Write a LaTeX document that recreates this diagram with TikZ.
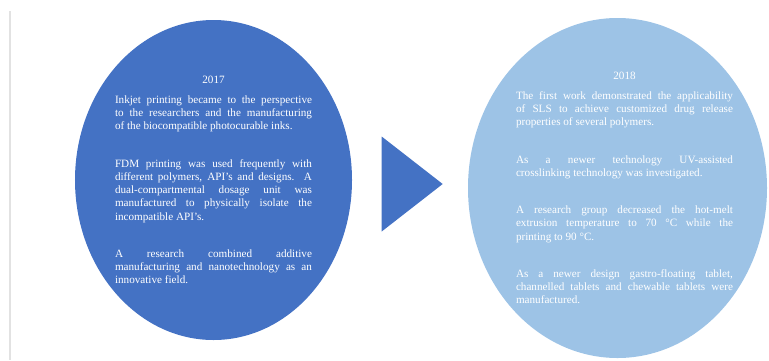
\documentclass[tikz,border=0pt]{standalone}
\usepackage{fontspec}
\setmainfont{Liberation Serif}
\usetikzlibrary{positioning,shapes.geometric}
\definecolor{darkblue}{HTML}{4472C4}
\definecolor{lightblue}{HTML}{9DC3E6}
\definecolor{rulegray}{HTML}{E2E2E2}
\tikzset{
  bubble/.style = {
    ellipse, inner sep=0pt, draw=none
  },
  yearnote/.style = {
    text=white, align=justify, inner sep=0pt,
    font=\fontsize{11.2}{13.3}\selectfont,
    execute at begin node=\setlength{\parindent}{0pt}
  },
  pointer/.style = {
    isosceles triangle, isosceles triangle stretches, shape border rotate=0,
    fill=darkblue, inner sep=0pt, minimum width=95bp, minimum height=61bp
  },
}
\newcommand{\paragap}{\par\vskip 24bp}

\begin{document}
\begin{tikzpicture}[x=1bp, y=-1bp]
  \useasboundingbox (0,0) rectangle (769,360);
  \draw[rulegray, line width=2bp] (10,11) -- (10,360);
  \node (y2017) [bubble, fill=darkblue, minimum width=277bp, minimum height=320bp] at (213.5,180) {};
  \node (arrow) [pointer, right=91bp of y2017.east, anchor=apex, yshift=-4bp] {};
  \node (y2018) [bubble, fill=lightblue, minimum width=299bp, minimum height=340bp] at (617.5,188) {};
  \node (t2017) [yearnote, text width=197bp] at (y2017.center) {{\centering 2017\par}\vskip 6.7bp
    Inkjet printing became to the perspective\linebreak to the researchers and the manufacturing\linebreak of the biocompatible photocurable inks.\paragap
    FDM printing was used frequently with\linebreak different polymers, API's and designs. A\linebreak dual-compartmental dosage unit was\linebreak manufactured to physically isolate the\linebreak incompatible API's.\paragap
    A research combined additive\linebreak manufacturing and nanotechnology as an\linebreak innovative field.};
  \node (t2018) [yearnote, text width=217bp, xshift=7bp] at (y2018.center) {{\centering 2018\par}\vskip 6.7bp
    The first work demonstrated the applicability\linebreak of SLS to achieve customized drug release\linebreak properties of several polymers.\paragap
    As a newer technology UV-assisted\linebreak crosslinking technology was investigated.\paragap
    A research group decreased the hot-melt\linebreak extrusion temperature to 70 °C while the\linebreak printing to 90 °C.\paragap
    As a newer design gastro-floating tablet,\linebreak channelled tablets and chewable tablets were\linebreak manufactured.};
\end{tikzpicture}
\end{document}
